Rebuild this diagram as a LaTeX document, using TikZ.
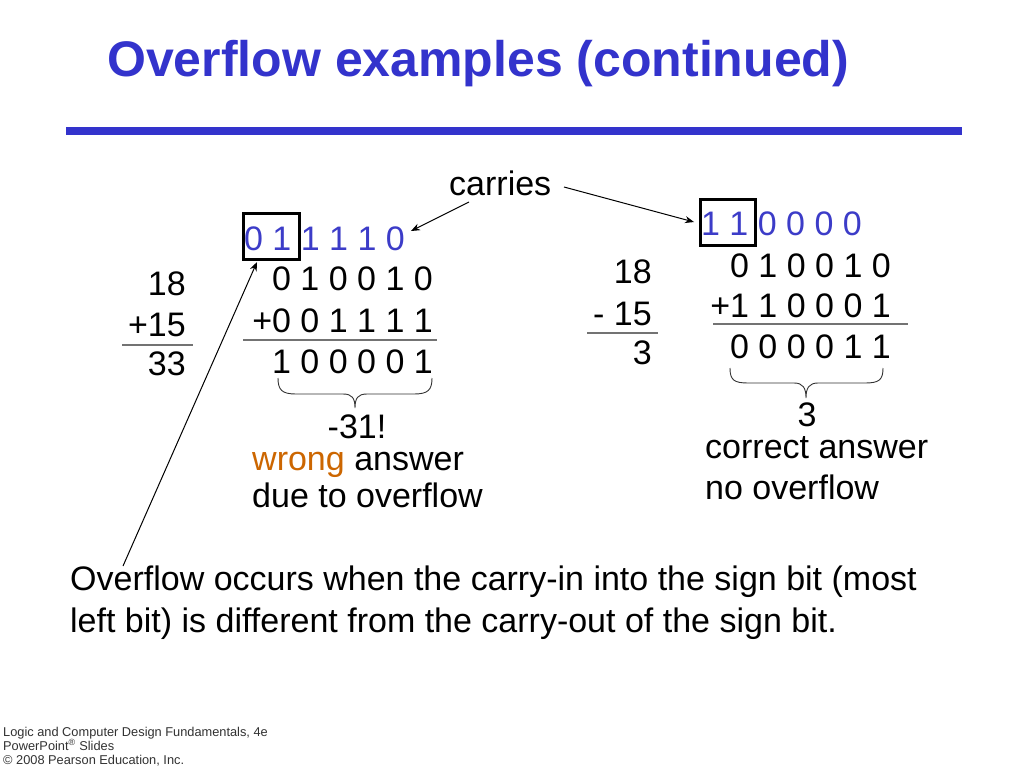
\documentclass[tikz,border=0pt]{standalone}
\usepackage{fontspec}
\setmainfont{Liberation Sans}
\usetikzlibrary{arrows.meta}
\definecolor{titleblue}{RGB}{51,51,204}
\definecolor{carryblue}{RGB}{60,60,200}
\definecolor{wrongorange}{RGB}{204,102,0}
\definecolor{footgray}{RGB}{50,50,50}
\begin{document}
\begin{tikzpicture}[x=1pt,y=-1pt,
  txt/.style={inner sep=0pt,font=\fontsize{34}{40}\selectfont},
  carry/.style={txt,text=carryblue},
  rule/.style={draw=black!55,line width=1.5pt},
  boxmark/.style={draw=black,line width=3pt},
  arr/.style={draw=black,line width=1pt,-{Stealth[length=9pt,width=7pt]}},
  bracemark/.style={draw=black!80,line width=0.9pt},
  foot/.style={inner sep=0pt,anchor=base west,text=footgray,font=\fontsize{12.8}{14}\selectfont}]
\useasboundingbox (0,0) rectangle (1024,768);
\fill[white] (0,0) rectangle (1024,768);
% title
\node[inner sep=0pt,anchor=base west,text=titleblue,font=\fontsize{50}{56}\selectfont\bfseries] (title) at (107,77) {Overflow examples (continued)};
\draw[titleblue,line width=8pt] (66,131) -- (962,131);
% carries label
\node[txt,anchor=base west] (carries) at (449,195) {carries};
% left example decimal
\node[txt,anchor=base east] (l18) at (186,295) {18};
\node[txt,anchor=base east] (l15) at (186,336) {+15};
\node[txt,anchor=base east] (l33) at (186,375) {33};
\draw[rule] (122,345) -- (193,345);
% left binary
\node[carry,anchor=base east] (lc) at (405,250) {0 1 1 1 1 0};
\node[txt,anchor=base east] (la) at (433,290) {0 1 0 0 1 0};
\node[txt,anchor=base east] (lb) at (433,332) {+0 0 1 1 1 1};
\draw[rule] (243,340) -- (437,340);
\node[txt,anchor=base east] (ls) at (433,373) {1 0 0 0 0 1};
\draw[boxmark] (243,213) rectangle (299,259);
\draw[bracemark] (278,378) .. controls (278,390) and (282,394) .. (296,394)
  -- (343,394) .. controls (352,394) and (355,398) .. (355,408)
  .. controls (355,398) and (358,394) .. (367,394)
  -- (414,394) .. controls (428,394) and (432,390) .. (432,378);
\node[txt,anchor=base] (lres) at (357,438) {-31!};
\node[txt,anchor=base west] (lw1) at (252,470) {\textcolor{wrongorange}{wrong} answer};
\node[txt,anchor=base west] (lw2) at (252,507) {due to overflow};
% right example decimal
\node[txt,anchor=base east] (r18) at (652,283) {18};
\node[txt,anchor=base east] (r15) at (652,325) {- 15};
\node[txt,anchor=base east] (r3) at (652,364) {3};
\draw[rule] (587,333) -- (658,333);
% right binary
\node[carry,anchor=base east] (rc) at (862,235) {1 1 0 0 0 0};
\node[txt,anchor=base east] (ra) at (891,277) {0 1 0 0 1 0};
\node[txt,anchor=base east] (rb) at (891,317) {+1 1 0 0 0 1};
\draw[rule] (713,324) -- (908,324);
\node[txt,anchor=base east] (rs) at (891,358) {0 0 0 0 1 1};
\draw[boxmark] (700,199) rectangle (755,245);
\draw[bracemark] (730,368) .. controls (730,380) and (734,383) .. (748,383)
  -- (794,383) .. controls (803,383) and (806,388) .. (806,398)
  .. controls (806,388) and (809,383) .. (818,383)
  -- (865,383) .. controls (879,383) and (883,380) .. (883,368);
\node[txt,anchor=base] (rres) at (807,426) {3};
\node[txt,anchor=base west] (rw1) at (705,458) {correct answer};
\node[txt,anchor=base west] (rw2) at (705,499) {no overflow};
% arrows from carries
\coordinate (cfromL) at (469,202);
\coordinate (ctoL) at (411,231);
\coordinate (cfromR) at (564,187);
\coordinate (ctoR) at (694,222);
\draw[arr] (cfromL) -- (ctoL);
\draw[arr] (cfromR) -- (ctoR);
% long arrow
\coordinate (ofrom) at (123,566);
\coordinate (oto) at (257,262);
\draw[arr] (ofrom) -- (oto);
% explanation
\node[txt,anchor=base west] (expl1) at (70,590) {Overflow occurs when the carry-in into the sign bit (most};
\node[txt,anchor=base west] (expl2) at (70,632) {left bit) is different from the carry-out of the sign bit.};
% footer
\node[foot] (f1) at (3,736) {Logic and Computer Design Fundamentals, 4e};
\node[foot] (f2) at (3,750) {PowerPoint\textsuperscript{\textregistered} Slides};
\node[foot] (f3) at (3,764) {\textcopyright\ 2008 Pearson Education, Inc.};
\end{tikzpicture}
\end{document}
